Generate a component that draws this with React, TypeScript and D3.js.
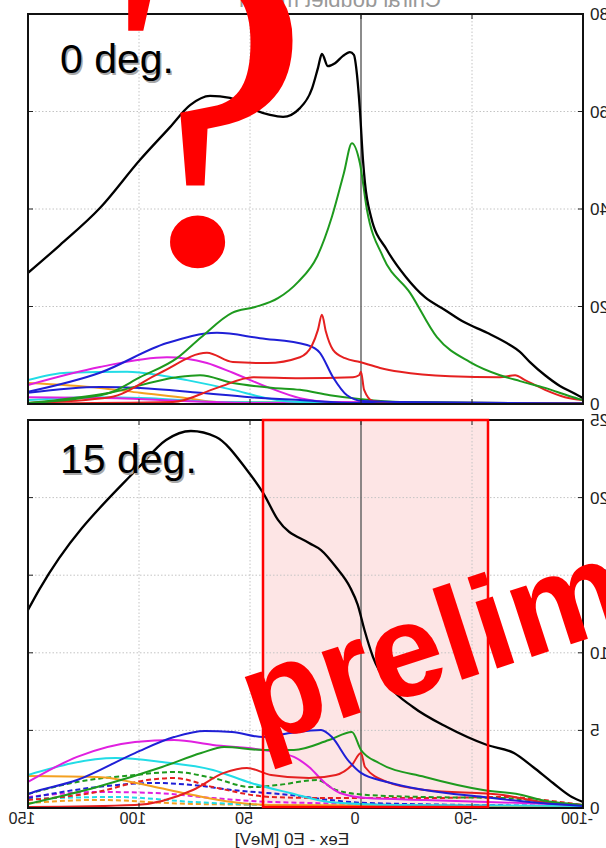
import React from 'react';
import * as d3 from 'd3';

type P = [number, number];

// x axis (Eex - E0 [MeV]), reversed
const xTicks = [150, 100, 50, 0, -50, -100];
const xTickLabels = ['150', '100', '50', '0', '-50', '-100'];
const topYTicks = [0, 20, 40, 60, 80];
const topYLabels = ['0', '20', '40', '60', '80'];
const botYTicks = [0, 5, 10, 15, 20, 25];
const botYLabels = ['0', '5', '10', '15', '20', '25'];

// ---------- 0 deg. panel ----------
const topBlack: P[] = [[150, 26.9], [135.6, 32.6], [117.6, 40.2], [99.5, 50.1], [86, 56.8], [77, 61.3], [68, 63.2], [59, 62.8], [50, 60.7], [41, 59.3], [35.1, 58.9], [27.5, 60.7], [22, 64.8], [19.4, 68.9], [17.6, 71.8], [14.9, 69.3], [11.7, 69.9], [8.1, 71.4], [5, 72.2], [3.2, 71.6], [1.8, 67.5], [0.5, 60.3], [-0.9, 50], [-1.8, 45.3], [-4.5, 38.4], [-11.7, 31.6], [-20.3, 26], [-28.8, 21.9], [-37.8, 19.3], [-46.4, 16.8], [-56.8, 14.6], [-67.1, 12.1], [-71.6, 10.7], [-76.1, 8.6], [-82.9, 5.9], [-89.6, 3.7], [-96.4, 2.1], [-100, 1.2]];
const topGreen: P[] = [[150, 0.2], [126.6, 1.2], [113.1, 2.3], [99.5, 5.5], [82.9, 9.4], [72, 13.7], [58.1, 18.7], [47.7, 19.9], [37.4, 21.7], [28.4, 25], [19.8, 30.2], [13.1, 38.4], [7.7, 47.4], [4.1, 53.5], [0.5, 49.4], [-2.7, 39.8], [-9.9, 30.2], [-22.1, 22.8], [-34.2, 13.7], [-49.1, 8.6], [-62.6, 5.9], [-71.6, 4.7], [-82.9, 3.3], [-94.1, 1.6], [-100, 0.8]];
const topGreenLow: P[] = [[150, 0.2], [113.1, 2.3], [82.9, 5.5], [72.5, 5.9], [57.7, 4.3], [39.6, 3.3], [27.5, 2.9], [14, 1.8], [0, 1.0], [-17.6, 0.4], [-100, 0.1]];
const topRed: P[] = [[150, 0.2], [113.1, 1.4], [90.5, 6.4], [69.4, 10.5], [57.7, 8.6], [42.3, 8.4], [27.5, 9.6], [22, 12.1], [19.4, 15.2], [17.6, 18.3], [15.8, 14.8], [12.6, 11.1], [7.2, 9.4], [0.5, 8.6], [-8.6, 7.4], [-17.6, 6.6], [-40.1, 5.7], [-62.6, 5.5], [-69.4, 5.9], [-73.9, 4.9], [-82.9, 2.9], [-91.9, 1.4], [-100, 0.8]];
const topRedLow: P[] = [[150, 0.1], [84.7, 0.4], [64.9, 3.3], [48.6, 5.5], [27.5, 5.3], [3.6, 5.5], [0.9, 5.9], [0, 6.6], [-1.4, 2.9], [-5.4, 0.6], [-17.6, 0.2], [-100, 0.1]];
const topBlue: P[] = [[150, 2.5], [117.6, 6.4], [87.4, 12.5], [64.9, 14.6], [45.5, 13.5], [24.3, 12.1], [18.5, 10.5], [12.6, 5.5], [6.3, 1.8], [-0.9, 0.6], [-17.6, 0.4], [-100, 0.1]];
const topBlueLow: P[] = [[150, 2.3], [117.6, 3.5], [99.5, 3.3], [72.5, 2.3], [50, 1.4], [27.5, 0.8], [0.5, 0.2], [-100, 0.1]];
const topMagenta: P[] = [[150, 3.9], [117.6, 7.6], [87.4, 9.6], [69.4, 8.4], [57.7, 6.4], [42.3, 3.5], [27.5, 1.2], [12.6, 0.4], [-100, 0.1]];
const topMagentaLow: P[] = [[150, 1.4], [110, 1.2], [80, 0.6], [50, 0.2], [-100, 0.1]];
const topCyan: P[] = [[150, 4.9], [132.4, 6.4], [105.4, 6.6], [90.5, 5.9], [78.4, 4.9], [57.7, 2.9], [42.3, 1.2], [27.5, 0.4], [-100, 0.1]];
const topCyanLow: P[] = [[150, 0.8], [122, 1.4], [95, 1.2], [65, 0.4], [-100, 0.1]];
const topOrange: P[] = [[150, 4.3], [117.6, 3.3], [99.5, 2.3], [78.4, 1.2], [64.9, 0.4], [-100, 0.1]];

// ---------- 15 deg. panel ----------
const botBlack: P[] = [[150, 12.76], [145, 14.05], [100, 21.97], [87.8, 23.71], [76.6, 24.29], [65.3, 23.9], [51.4, 21.78], [44.1, 20.3], [37.4, 18.56], [23.4, 17.07], [18, 16.62], [11.3, 15.53], [5, 14.24], [1.5, 13.1], [-1.5, 11.5], [-5.4, 9.73], [-13.1, 7.8], [-23.4, 6.51], [-38.7, 5.22], [-56.8, 4.06], [-68.9, 3.54], [-77.5, 2.64], [-86.5, 1.61], [-95, 0.71], [-100, 0.39]];
const botBlue: P[] = [[150, 0.9], [148.6, 0.97], [127.9, 1.8], [101.8, 3.54], [84.2, 4.57], [70.3, 4.96], [58.1, 4.9], [44.1, 4.57], [32, 4.83], [18, 5.03], [13.1, 4.57], [5.9, 3.09], [0, 2.26], [-11.7, 1.68], [-28.8, 1.16], [-55, 0.71], [-81.1, 0.32], [-100, 0.13]];
const botGreen: P[] = [[150, 0.26], [118.9, 1.35], [89.6, 2.64], [72, 3.54], [61.7, 3.93], [44.1, 3.74], [30.2, 3.74], [14.4, 4.38], [4.1, 4.9], [0, 3.74], [-8.1, 2.9], [-28.8, 2], [-55, 1.16], [-72.5, 0.84], [-81.1, 0.52], [-100, 0.19]];
const botMagenta: P[] = [[150, 1.68], [127.9, 3.29], [101.8, 4.25], [84.2, 4.38], [66.7, 4.06], [44.1, 3.74], [30.2, 3.29], [23.4, 2.64], [16.2, 1.61], [9.5, 0.97], [-2.7, 0.64], [-28.8, 0.52], [-100, 0.19]];
const botCyan: P[] = [[150, 2.13], [110.4, 3.22], [89.6, 2.96], [66.7, 2.45], [49.5, 1.61], [32, 0.97], [14.4, 0.39], [-17.6, 0.19], [-100, 0.13]];
const botOrange: P[] = [[150, 2.06], [118.9, 2], [92.8, 1.35], [75.7, 0.84], [58.1, 0.39], [40.5, 0.19], [-100, 0.1]];
const botRed: P[] = [[150, 0.06], [101.8, 0.19], [75.7, 1.16], [61.7, 2.26], [51.4, 2.58], [40.5, 2.13], [23.4, 1.93], [11.3, 2.13], [4.1, 2.77], [0, 3.54], [-1.8, 2.64], [-11.7, 1.68], [-28.8, 1.16], [-64, 0.84], [-81.1, 0.39], [-100, 0.19]];
const botGreenDash: P[] = [[150, 0.9], [127.9, 1.68], [101.8, 2.13], [84.2, 2.32], [66.7, 1.93], [49.5, 1.35], [37.4, 1.48], [19.8, 1.8], [11.3, 1.16], [-2.7, 0.84], [-28.8, 0.71], [-64, 0.64], [-89.6, 0.32], [-100, 0.19]];
const botRedDash: P[] = [[150, 0.52], [118.9, 1.03], [96.4, 1.8], [84.2, 1.93], [66.7, 1.35], [40.5, 0.71], [14.4, 0.64], [-28.8, 0.64], [-64, 0.71], [-89.6, 0.39], [-100, 0.19]];
const botBlueDash: P[] = [[150, 0.64], [118.9, 1.35], [92.8, 1.61], [75.7, 1.48], [58.1, 1.16], [32, 0.84], [14.4, 0.52], [-2.7, 0.32], [-100, 0.13]];
const botMagentaDash: P[] = [[150, 0.71], [118.9, 1.03], [92.8, 0.97], [66.7, 0.64], [40.5, 0.39], [-100, 0.1]];
const botCyanDash: P[] = [[150, 0.58], [110.4, 0.71], [75.7, 0.39], [40.5, 0.19], [-100, 0.06]];
const botOrangeDash: P[] = [[150, 0.32], [118.9, 0.52], [75.7, 0.26], [-100, 0.06]];

const BLACK = '#000000';
const GREEN = '#1e9a1e';
const RED = '#e52020';
const BLUE = '#1f1fd6';
const MAGENTA = '#e020e0';
const CYAN = '#22dce6';
const ORANGE = '#f4a020';

const topSeries = [
  { d: topOrange, c: ORANGE }, { d: topCyanLow, c: CYAN }, { d: topMagentaLow, c: MAGENTA },
  { d: topCyan, c: CYAN }, { d: topMagenta, c: MAGENTA }, { d: topBlueLow, c: BLUE },
  { d: topGreenLow, c: GREEN }, { d: topRedLow, c: RED }, { d: topBlue, c: BLUE },
  { d: topRed, c: RED }, { d: topGreen, c: GREEN }, { d: topBlack, c: BLACK },
];
const botSeries = [
  { d: botOrangeDash, c: ORANGE, dash: true }, { d: botCyanDash, c: CYAN, dash: true },
  { d: botMagentaDash, c: MAGENTA, dash: true }, { d: botBlueDash, c: BLUE, dash: true },
  { d: botRedDash, c: RED, dash: true }, { d: botGreenDash, c: GREEN, dash: true },
  { d: botOrange, c: ORANGE }, { d: botCyan, c: CYAN }, { d: botMagenta, c: MAGENTA },
  { d: botRed, c: RED }, { d: botGreen, c: GREEN }, { d: botBlue, c: BLUE }, { d: botBlack, c: BLACK },
];

const W = 606, H = 848;
const L = 28, R = 583;
const T1 = 14, B1 = 404, T2 = 420, B2 = 808;
const FONT = '"Liberation Sans", Arial, sans-serif';

function MText(props: { x: number; y: number; anchor: string; size: number; fill: string; children: any }) {
  const { x, y, anchor, size, fill, children } = props;
  return (
    <text transform={`translate(${x},${y}) scale(-1,1)`} textAnchor={anchor as any} fontSize={size} fill={fill} fontFamily={FONT}>
      {children}
    </text>
  );
}

function Panel(props: { top: number; bottom: number; yDomain: [number, number]; ticks: number[]; labels: string[]; series: any[]; id: string; shade?: boolean }) {
  const { top, bottom, yDomain, ticks, labels, series, id, shade } = props;
  const x = d3.scaleLinear().domain([150, -100]).range([L, R]);
  const y = d3.scaleLinear().domain(yDomain).range([bottom, top]);
  const line = d3.line<P>().x((d) => x(d[0])).y((d) => y(d[1])).curve(d3.curveMonotoneX);
  return (
    <g>
      <defs>
        <clipPath id={id}><rect x={L} y={top} width={R - L} height={bottom - top} /></clipPath>
      </defs>
      <rect x={L} y={top} width={R - L} height={bottom - top} fill="#fff" />
      {shade && <rect x={263} y={T2} width={488 - 263} height={B2 - T2} fill="#fde5e5" />}
      {xTicks.slice(1, -1).map((t) => t !== 0 && (
        <line key={'gx' + t} x1={x(t)} x2={x(t)} y1={top} y2={bottom} stroke="#c4c4c4" strokeWidth={1} strokeDasharray="1.5,2" />
      ))}
      {ticks.slice(1, -1).map((t) => (
        <line key={'gy' + t} x1={L} x2={R} y1={y(t)} y2={y(t)} stroke="#c4c4c4" strokeWidth={1} strokeDasharray="1.5,2" />
      ))}
      <line x1={x(0)} x2={x(0)} y1={top} y2={bottom} stroke="#666" strokeWidth={1.5} />
      <g clipPath={`url(#${id})`}>
        {series.map((s, i) => (
          <path key={i} d={line(s.d) || ''} fill="none" stroke={s.c} strokeWidth={s.c === BLACK ? 2.3 : 2}
            strokeDasharray={s.dash ? '5,3' : undefined} strokeLinejoin="round" />
        ))}
      </g>
      {xTicks.slice(1, -1).map((t) => (
        <g key={'tx' + t}>
          <line x1={x(t)} x2={x(t)} y1={top} y2={top + 5} stroke="#222" strokeWidth={1} />
          <line x1={x(t)} x2={x(t)} y1={bottom} y2={bottom - 5} stroke="#222" strokeWidth={1} />
        </g>
      ))}
      {ticks.map((t, i) => (
        <g key={'ty' + t}>
          <line x1={L} x2={L + 5} y1={y(t)} y2={y(t)} stroke="#222" strokeWidth={1} />
          <line x1={R} x2={R - 5} y1={y(t)} y2={y(t)} stroke="#222" strokeWidth={1} />
          <MText x={590} y={y(t) + 6} anchor="end" size={17} fill="#222">{labels[i]}</MText>
        </g>
      ))}
      <rect x={L} y={top} width={R - L} height={bottom - top} fill="none" stroke="#111" strokeWidth={2} />
    </g>
  );
}

export default function App() {
  const x = d3.scaleLinear().domain([150, -100]).range([L, R]);
  return (
    <svg width={W} height={H} viewBox={`0 0 ${W} ${H}`} style={{ position: 'absolute', left: 0, top: 0, background: '#fff' }}>
      <rect width={W} height={H} fill="#fff" />
      <MText x={340} y={7} anchor="middle" size={22} fill="#999">Chiral doublet model</MText>
      <Panel top={T1} bottom={B1} yDomain={[0, 80]} ticks={topYTicks} labels={topYLabels} series={topSeries} id="c1" />
      <Panel top={T2} bottom={B2} yDomain={[0, 25]} ticks={botYTicks} labels={botYLabels} series={botSeries} id="c2" shade />
      <rect x={263} y={T2} width={488 - 263} height={B2 - T2 - 1} fill="none" stroke="#ff0000" strokeWidth={2.5} />
      {xTicks.map((t, i) => (
        <MText key={'xl' + t} x={x(t) - 6} y={824} anchor="middle" size={16} fill="#222">{xTickLabels[i]}</MText>
      ))}
      <MText x={292} y={845} anchor="middle" size={17} fill="#222">Eex - E0 [MeV]</MText>
      <text x={61.5} y={74.5} fontSize={41} fontFamily={FONT} fill="#a8a8a8">0 deg.</text>
      <text x={60} y={73} fontSize={41} fontFamily={FONT} fill="#000">0 deg.</text>
      <text x={61.5} y={474.5} fontSize={41} fontFamily={FONT} fill="#a8a8a8">15 deg.</text>
      <text x={60} y={473} fontSize={41} fontFamily={FONT} fill="#000">15 deg.</text>
      <text transform="translate(104,262) scale(0.9,0.86)" x={0} y={0} fontSize={520} fontFamily='"Liberation Serif", "Times New Roman", serif' fill="#ff0000">?</text>
      <text transform="translate(258,746) rotate(-18)" fontSize={132} fontWeight="bold" fontFamily={FONT} fill="#ff0000">preliminary</text>
    </svg>
  );
}
